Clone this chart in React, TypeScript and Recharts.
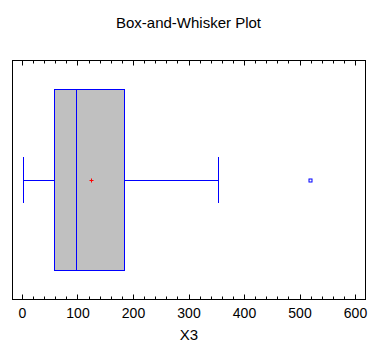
import { ScatterChart, Scatter, XAxis, YAxis, ReferenceArea, ReferenceLine } from "recharts"

const title = "Box-and-Whisker Plot"
const variableName = "X3"

// five-number summary: min, Q1, median, Q3, max (whisker ends)
const summaryNames = ["min", "q1", "median", "q3", "max"]
const summaryValues = [2, 57, 97, 183, 353]
const meanValues = [125]
const outlierValues = [519]

const axisDomain = [-18, 618]
const majorTicks = [0, 100, 200, 300, 400, 500, 600]
const minorStep = 20

const stat = (name: string) => summaryValues[summaryNames.indexOf(name)]

const BLUE = "#0000ff"
const BOX_LO = 0.12
const BOX_HI = 0.88
const CAP_LO = 0.404
const CAP_HI = 0.596
const MID = 0.5

const allTicks: number[] = []
for (let v = majorTicks[0]; v <= majorTicks[majorTicks.length - 1]; v += minorStep) allTicks.push(v)

const crisp = (v: number) => Math.round(v - 0.5) + 0.5

const BottomTick = (props: any) => {
  const { x, y, payload } = props
  const major = payload.value % 100 === 0
  const px = crisp(x)
  return (
    <g>
      <line x1={px} x2={px} y1={y} y2={y - (major ? 5 : 3)} stroke="#000" />
      {major && (
        <text x={x} y={y + 18} textAnchor="middle" fontSize={14} fill="#000">
          {payload.value}
        </text>
      )}
    </g>
  )
}

const TopTick = (props: any) => {
  const { x, y, payload } = props
  const major = payload.value % 100 === 0
  const px = crisp(x)
  return <line x1={px} x2={px} y1={y} y2={y + (major ? 5 : 3)} stroke="#000" />
}

const MeanMark = (props: any) => {
  const { cx, cy } = props
  const x = crisp(cx)
  const y = crisp(cy)
  return (
    <g stroke="#ff0000">
      <line x1={x - 2} x2={x + 2} y1={y} y2={y} />
      <line x1={x} x2={x} y1={y - 2} y2={y + 2} />
    </g>
  )
}

const OutlierMark = (props: any) => {
  const { cx, cy } = props
  return <rect x={crisp(cx) - 1.5} y={crisp(cy) - 1.5} width={3} height={3} fill="#fff" stroke={BLUE} />
}

export default function App() {
  const meanData = meanValues.map((x) => ({ x, y: MID }))
  const outlierData = outlierValues.map((x) => ({ x, y: MID }))
  const q1 = stat("q1")
  const q3 = stat("q3")
  const med = stat("median")
  const lo = stat("min")
  const hi = stat("max")

  return (
    <div style={{ position: "relative", width: 387, height: 354, margin: -8, fontFamily: "'Liberation Sans', Arial, sans-serif" }}>
      <style>{`.recharts-reference-line line, .recharts-reference-area path, .recharts-reference-area rect { shape-rendering: crispEdges; }`}</style>
      <div style={{ position: "absolute", left: 0, top: 15, width: 377, textAlign: "center", fontSize: 15, lineHeight: "15px", color: "#000" }}>
        {title}
      </div>
      <ScatterChart width={387} height={354} margin={{ top: 59.5, right: 21.5, left: 12.5, bottom: 0 }}>
        <XAxis
          xAxisId="top"
          orientation="top"
          type="number"
          dataKey="x"
          domain={axisDomain}
          ticks={allTicks}
          interval={0}
          height={1}
          axisLine={false}
          tickLine={false}
          tickSize={0}
          tickMargin={0}
          tick={<TopTick />}
          allowDataOverflow
        />
        <XAxis
          type="number"
          dataKey="x"
          domain={axisDomain}
          ticks={allTicks}
          interval={0}
          height={54.5}
          axisLine={false}
          tickLine={false}
          tickSize={0}
          tickMargin={0}
          tick={<BottomTick />}
          allowDataOverflow
          label={{ value: variableName, position: "insideBottom", offset: 14, fontSize: 15, fill: "#000" }}
        />
        <YAxis type="number" dataKey="y" domain={[0, 1]} hide allowDataOverflow />
        <ReferenceArea x1={axisDomain[0]} x2={axisDomain[1]} y1={0} y2={1} fill="none" stroke="#000" strokeOpacity={1} fillOpacity={0} />
        <ReferenceLine segment={[{ x: lo, y: MID }, { x: q1, y: MID }]} stroke={BLUE} strokeWidth={1} />
        <ReferenceLine segment={[{ x: q3, y: MID }, { x: hi, y: MID }]} stroke={BLUE} strokeWidth={1} />
        <ReferenceLine segment={[{ x: lo, y: CAP_LO }, { x: lo, y: CAP_HI }]} stroke={BLUE} strokeWidth={1} />
        <ReferenceLine segment={[{ x: hi, y: CAP_LO }, { x: hi, y: CAP_HI }]} stroke={BLUE} strokeWidth={1} />
        <ReferenceArea x1={q1} x2={q3} y1={BOX_LO} y2={BOX_HI} fill="#c0c0c0" fillOpacity={1} stroke={BLUE} strokeOpacity={1} />
        <ReferenceLine segment={[{ x: med, y: BOX_LO }, { x: med, y: BOX_HI }]} stroke={BLUE} strokeWidth={1} />
        <Scatter data={meanData} shape={<MeanMark />} isAnimationActive={false} />
        <Scatter data={outlierData} shape={<OutlierMark />} isAnimationActive={false} />
      </ScatterChart>
    </div>
  )
}
